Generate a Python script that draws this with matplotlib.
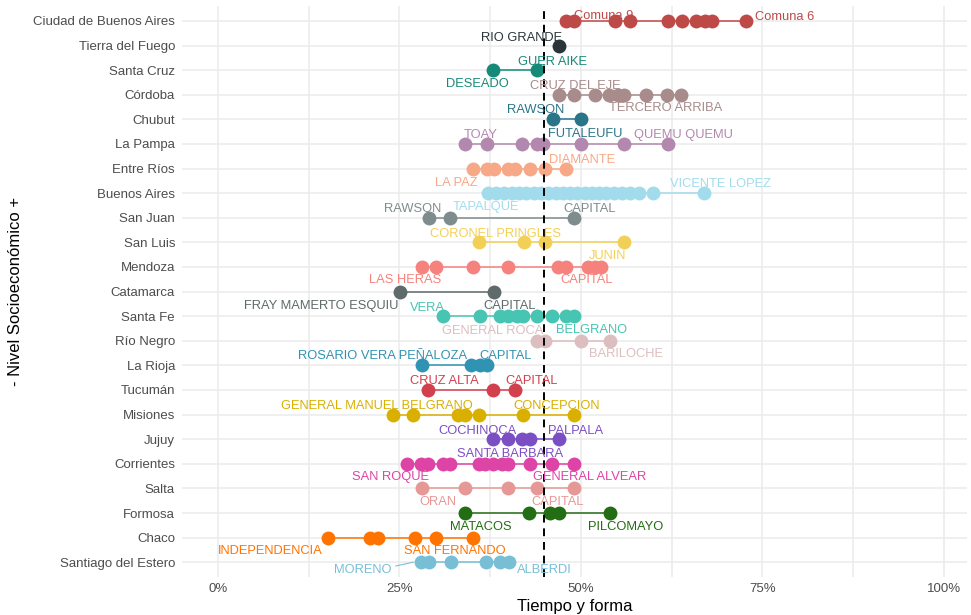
import matplotlib.pyplot as plt
from matplotlib.ticker import FuncFormatter

plt.rcParams['font.family'] = ['Liberation Sans', 'DejaVu Sans']

# Datos: proporcion "en tiempo y forma" por departamento, agrupado por provincia

provincias = ["Ciudad de Buenos Aires", "Tierra del Fuego", "Santa Cruz", "Córdoba",
              "Chubut", "La Pampa", "Entre Ríos", "Buenos Aires", "San Juan",
              "San Luis", "Mendoza", "Catamarca", "Santa Fe", "Río Negro",
              "La Rioja", "Tucumán", "Misiones", "Jujuy", "Corrientes", "Salta",
              "Formosa", "Chaco", "Santiago del Estero"]

caba = [0.479, 0.490, 0.547, 0.568, 0.620, 0.639, 0.659, 0.671, 0.680, 0.728]
tierra_del_fuego = [0.470]
santa_cruz = [0.379, 0.440]
cordoba = [0.470, 0.490, 0.520, 0.539, 0.551, 0.559, 0.590, 0.619, 0.638]
chubut = [0.461, 0.500]
la_pampa = [0.340, 0.370, 0.419, 0.440, 0.448, 0.500, 0.559, 0.620]
entre_rios = [0.351, 0.370, 0.380, 0.399, 0.409, 0.430, 0.450, 0.479]
buenos_aires = [0.372, 0.383, 0.394, 0.405, 0.415, 0.425, 0.435, 0.445, 0.455,
                0.465, 0.475, 0.485, 0.495, 0.505, 0.515, 0.525, 0.535, 0.545,
                0.556, 0.567, 0.580, 0.599, 0.669]
san_juan = [0.291, 0.320, 0.490]
san_luis = [0.360, 0.421, 0.450, 0.559]
mendoza = [0.281, 0.300, 0.351, 0.400, 0.469, 0.480, 0.510, 0.519, 0.528]
catamarca = [0.251, 0.380]
santa_fe = [0.310, 0.361, 0.388, 0.400, 0.412, 0.420, 0.439, 0.460, 0.479, 0.490]
rio_negro = [0.439, 0.450, 0.500, 0.540]
la_rioja = [0.281, 0.349, 0.361, 0.371]
tucuman = [0.290, 0.379, 0.409]
misiones = [0.241, 0.269, 0.330, 0.340, 0.360, 0.420, 0.490]
jujuy = [0.379, 0.400, 0.419, 0.430, 0.470]
corrientes = [0.260, 0.279, 0.290, 0.310, 0.320, 0.359, 0.368, 0.379, 0.391,
              0.400, 0.430, 0.460, 0.490]
salta = [0.281, 0.340, 0.400, 0.440, 0.490]
formosa = [0.340, 0.429, 0.457, 0.470, 0.540]
chaco = [0.151, 0.210, 0.221, 0.271, 0.300, 0.351]
santiago = [0.279, 0.291, 0.321, 0.369, 0.389, 0.401]

valores = [caba, tierra_del_fuego, santa_cruz, cordoba, chubut, la_pampa,
           entre_rios, buenos_aires, san_juan, san_luis, mendoza, catamarca,
           santa_fe, rio_negro, la_rioja, tucuman, misiones, jujuy, corrientes,
           salta, formosa, chaco, santiago]

colores = ["#BE4A48", "#2A3439", "#168A78", "#A88B8B", "#2B7589", "#B388AF",
           "#F7A886", "#A2DCEC", "#7F8C8D", "#F2D057", "#F5827C", "#5F6A6A",
           "#48C4B2", "#DCBEC0", "#3193B3", "#D2404D", "#D9B000", "#7B4FC3",
           "#DE44A6", "#E69896", "#236D14", "#FF7300", "#78BFD6"]

promedio = 0.449

# etiquetas de departamentos (texto, provincia)
etiquetas = ["Comuna 9", "Comuna 6", "RIO GRANDE", "GUER AIKE", "DESEADO",
             "CRUZ DEL EJE", "TERCERO ARRIBA", "RAWSON", "FUTALEUFU", "TOAY",
             "QUEMU QUEMU", "DIAMANTE", "LA PAZ", "VICENTE LOPEZ", "TAPALQUE",
             "RAWSON", "CAPITAL", "CORONEL PRINGLES", "JUNIN", "LAS HERAS",
             "CAPITAL", "FRAY MAMERTO ESQUIU", "CAPITAL", "VERA", "BELGRANO",
             "GENERAL ROCA", "BARILOCHE", "ROSARIO VERA PEÑALOZA", "CAPITAL",
             "CRUZ ALTA", "CAPITAL", "GENERAL MANUEL BELGRANO", "CONCEPCION",
             "COCHINOCA", "PALPALA", "SANTA BARBARA", "SAN ROQUE",
             "GENERAL ALVEAR", "ORAN", "CAPITAL", "MATACOS", "PILCOMAYO",
             "INDEPENDENCIA", "SAN FERNANDO", "MORENO", "ALBERDI"]
etiquetas_prov = [0, 0, 1, 2, 2, 3, 3, 4, 4, 5, 5, 6, 6, 7, 7, 8, 8, 9, 9, 10,
                  10, 11, 11, 12, 12, 13, 13, 14, 14, 15, 15, 16, 16, 17, 17, 17,
                  18, 18, 19, 19, 20, 20, 21, 21, 22, 22]
# posicion del texto (como la dejo ggrepel)
etiquetas_x = [0.531, 0.781, 0.418, 0.461, 0.358, 0.492, 0.617, 0.437, 0.506,
               0.362, 0.641, 0.501, 0.328, 0.692, 0.369, 0.268, 0.512, 0.382,
               0.537, 0.258, 0.508, 0.142, 0.402, 0.288, 0.515, 0.379, 0.562,
               0.227, 0.396, 0.312, 0.432, 0.219, 0.467, 0.357, 0.492, 0.403,
               0.238, 0.512, 0.303, 0.468, 0.362, 0.562, 0.072, 0.326, 0.200,
               0.450]
etiquetas_dy = [-0.28, -0.24, -0.42, -0.45, 0.48, -0.45, 0.45, -0.48, 0.48, -0.48,
                -0.48, -0.45, 0.48, -0.48, 0.48, -0.45, -0.45, -0.45, 0.45, 0.45,
                0.45, 0.48, 0.48, -0.45, 0.45, -0.48, 0.45, -0.48, -0.48, -0.45,
                -0.45, -0.45, -0.45, -0.45, -0.45, 0.5, 0.45, 0.45, 0.45, 0.45,
                0.45, 0.45, 0.45, 0.45, 0.2, 0.2]

fig = plt.figure(figsize=(9.71, 6.15), dpi=100)
ax = fig.add_axes([0.1874, 0.0618, 0.8086, 0.9282])

for i in range(len(provincias)):
    v = sorted(valores[i])
    ax.plot([v[0], v[-1]], [i, i], color=colores[i], lw=1.1, zorder=3)
    ax.plot(v, [i] * len(v), "o", color=colores[i], ms=10, mec="none", zorder=4)

ax.axvline(promedio, color="black", ls=(0, (4, 3)), lw=1.4, zorder=5)

for k in range(len(etiquetas)):
    p = etiquetas_prov[k]
    ax.text(etiquetas_x[k], p + etiquetas_dy[k] + 0.1, etiquetas[k], color=colores[p],
            fontsize=9.3, ha="center", va="center", zorder=6)
    if etiquetas[k] == "MORENO":
        ax.plot([etiquetas_x[k] + 0.045, min(valores[p]) - 0.01],
                [p + 0.15, p], color=colores[p], lw=0.8, zorder=6)

ax.set_xlim(-0.0496, 1.032)
ax.set_ylim(22.6, -0.6)
ax.set_xticks([0, 0.25, 0.5, 0.75, 1])
ax.set_xticks([0.125, 0.375, 0.625, 0.875], minor=True)
ax.xaxis.set_major_formatter(FuncFormatter(lambda x, pos: "{:.0f}%".format(x * 100)))
ax.set_yticks(range(len(provincias)))
ax.set_yticklabels(provincias)
ax.tick_params(axis="both", which="both", length=0, labelsize=9.5, labelcolor="#4D4D4D")
ax.tick_params(axis="y", pad=5)
ax.tick_params(axis="x", pad=4)
ax.grid(True, which="both", color="#EBEBEB", lw=1.1)
ax.set_axisbelow(True)
for s in ax.spines.values():
    s.set_visible(False)

ax.set_xlabel("Tiempo y forma", fontsize=12, labelpad=3)
ax.set_ylabel("- Nivel Socioeconómico +", fontsize=12, labelpad=7)

plt.savefig("out.png", dpi=100)
